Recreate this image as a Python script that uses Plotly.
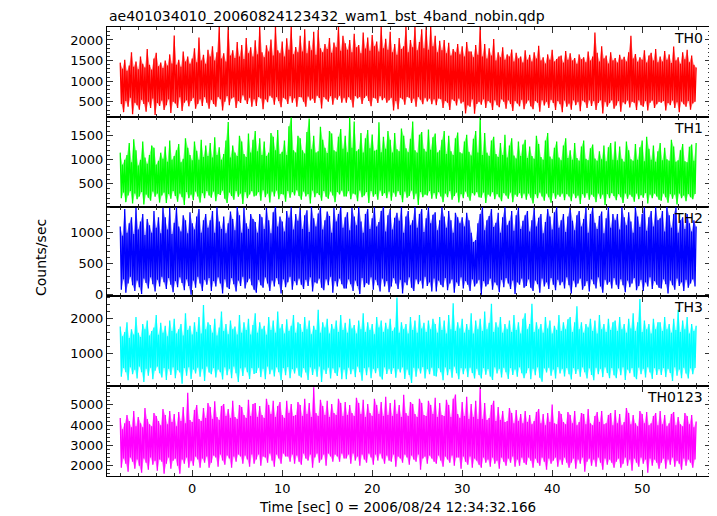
import plotly.graph_objects as go
from plotly.subplots import make_subplots

# ---------------- data ----------------
panel_names = ["TH0", "TH1", "TH2", "TH3", "TH0123"]
panel_colors = ["#ff0000", "#00ff00", "#0000ff", "#00ffff", "#ff00ff"]
panel_tints = ["rgba(255,0,0,0.5)", "rgba(0,255,0,0.5)", "rgba(0,0,255,0.5)",
               "rgba(0,255,255,0.5)", "rgba(255,0,255,0.5)"]

time_start = -8.0      # first sample time [s]
peak_step = 0.25       # spacing of the peak samples [s]; troughs sit half-way between

# ---- TH0: local peaks (t=-8.0..56.0 every 0.25 s) and troughs (t=-7.875..55.875)
th0_peak = [1450, 1300, 1520, 1250, 1380, 1700, 1350, 1480, 1290, 1600, 1420, 1330, 1780, 1400, 1280, 1550, 1690, 1360, 1450, 1320,
            1500, 1380, 1650, 1430, 2110, 1400, 1520, 1350, 1720, 1480, 1600, 1420, 1550, 1800, 1460, 2060, 1500, 1640, 1420, 1760,
            1600, 1850, 1500, 1700, 2330, 1550, 1680, 1480, 2330, 1620, 1750, 1560, 1950, 1600, 1880, 1540, 2050, 1680, 1820, 1600,
            1990, 1650, 2330, 1700, 1580, 1870, 1720, 2010, 1620, 2330, 1750, 1680, 1960, 1600, 2040, 1760, 2330, 1650, 1830, 1700,
            2100, 1720, 2260, 1680, 1980, 1750, 2200, 1640, 2240, 1800, 1700, 1900, 1780, 2050, 1690, 1940, 1820, 2330, 1740, 2100,
            1920, 1760, 2000, 1700, 2150, 1820, 1880, 1680, 2180, 1790, 2060, 1740, 2120, 1850, 1960, 1720, 2330, 1800, 2030, 1760,
            2200, 1700, 1900, 1640, 2050, 1780, 1850, 2330, 1700, 2000, 1820, 2330, 1750, 1950, 2260, 1800, 2330, 1760, 2330, 1850,
            2100, 1700, 1980, 1750, 2000, 1680, 1930, 1620, 1780, 1700, 1900, 1650, 1850, 1600, 1950, 1720, 1720, 1580, 1880, 1640,
            2330, 1600, 1900, 1550, 1800, 1620, 2020, 1500, 1700, 1580, 1820, 1520, 1650, 1600, 1770, 1480, 1690, 1550, 1600, 1450,
            1750, 1520, 1640, 1480, 1700, 1550, 1860, 1500, 1580, 1430, 1650, 1520, 1760, 1480, 1540, 1600, 1620, 1450, 1730, 1520,
            1680, 1500, 1560, 1420, 1650, 1530, 1580, 1460, 1720, 1500, 1600, 2180, 1690, 1480, 1850, 1550, 1620, 1430, 1700, 1500,
            1560, 1450, 1640, 1520, 1590, 1480, 1700, 2100, 1550, 1660, 1470, 1580, 1520, 1750, 1450, 1620, 1690, 1500, 1780, 1460,
            1600, 1480, 1730, 1520, 1650, 1440, 1840, 1500, 1580, 1420, 1700, 1530, 1760, 1460, 1620, 1400, 1330]
th0_trough = [450, 250, 520, 380, 600, 200, 480, 420, 310, 550, 450, 260, 500, 350, 580, 180, 470, 400, 530, 300,
              420, 560, 230, 500, 460, 350, 610, 280, 480, 540, 390, 520, 600, 330, 450, 560, 400, 620, 480, 330,
              550, 450, 380, 620, 560, 290, 500, 640, 420, 580, 610, 350, 520, 470, 660, 540, 450, 600, 380, 560,
              400, 620, 580, 320, 560, 490, 650, 600, 430, 620, 520, 370, 600, 560, 450, 640, 480, 590, 380, 620,
              610, 500, 380, 630, 530, 580, 470, 650, 590, 340, 620, 560, 500, 640, 430, 600, 550, 650, 480, 600,
              480, 620, 550, 360, 640, 580, 620, 450, 590, 650, 520, 390, 600, 580, 470, 640, 540, 600, 480, 540,
              600, 290, 520, 320, 600, 560, 430, 620, 600, 470, 580, 380, 620, 550, 440, 600, 510, 580, 440, 560,
              420, 580, 560, 350, 520, 480, 300, 560, 520, 410, 580, 460, 500, 220, 420, 380, 560, 210, 450, 500,
              430, 560, 350, 520, 480, 300, 540, 420, 370, 560, 500, 330, 540, 450, 280, 520, 460, 390, 550, 320,
              460, 540, 390, 320, 520, 480, 260, 540, 410, 500, 350, 550, 470, 300, 520, 440, 250, 530, 380, 460,
              310, 540, 420, 500, 270, 530, 490, 350, 540, 400, 520, 300, 470, 540, 220, 500, 380, 470, 540, 330,
              410, 520, 260, 490, 440, 530, 360, 500, 480, 300, 540, 420, 380, 520, 290, 480, 530, 350, 440, 500,
              480, 520, 290, 470, 420, 530, 350, 490, 250, 510, 440, 380, 520, 310, 460, 500]

# ---- TH1
th1_peak = [1150, 900, 1000, 1100, 1350, 950, 1430, 1200, 880, 1000, 1380, 1050, 920, 1100, 1300, 1250, 900, 980, 1150, 1020,
            1280, 960, 1400, 1000, 1080, 1200, 1330, 950, 1020, 1450, 1250, 1100, 990, 1380, 1190, 1000, 1420, 1060, 1300, 1080,
            1350, 1050, 1470, 1100, 1260, 1000, 1120, 1400, 1790, 1050, 1300, 1150, 1080, 1500, 1380, 1120, 1060, 1550, 1150, 1420,
            1600, 1180, 1450, 1100, 1380, 1080, 1150, 1560, 1480, 1200, 1620, 1120, 1170, 1400, 1100, 1700, 1880, 1200, 1150, 1500,
            1450, 1200, 1130, 1580, 1860, 1220, 1500, 1150, 1180, 1690, 1420, 1250, 1140, 1600, 1550, 1200, 1170, 1480, 1640, 1230,
            1500, 1160, 1880, 1250, 1800, 1180, 1220, 1560, 1150, 1450, 1620, 1240, 1530, 1190, 1210, 1780, 1160, 1480, 1230, 1600,
            1420, 1150, 1560, 1220, 1180, 1650, 1500, 1240, 1160, 1440, 1800, 1200, 1150, 1520, 1580, 1230, 1170, 1630, 1210, 1470,
            1550, 1150, 1200, 1420, 1600, 1120, 1500, 1180, 1100, 1450, 1570, 1160, 1130, 1380, 1520, 1170, 1090, 1440, 1600, 1150,
            1880, 1100, 1560, 1150, 1080, 1400, 1480, 1120, 1060, 1350, 1100, 1520, 1050, 1300, 1450, 1090, 1030, 1380, 1080, 1320,
            1420, 1040, 1280, 1080, 1020, 1500, 1330, 1060, 1000, 1400, 1560, 1070, 1010, 1250, 1380, 1050, 990, 1300, 1450, 1040,
            1200, 1000, 1350, 1040, 980, 1280, 1400, 1020, 990, 1240, 1320, 1030, 980, 1180, 1010, 1300, 970, 1260, 1350, 1000,
            1380, 990, 1280, 1020, 960, 1380, 1200, 1010, 980, 1330, 1000, 1260, 1400, 970, 1480, 1230, 1000, 1300, 960, 1180,
            1350, 990, 1250, 1010, 980, 1420, 1280, 960, 990, 1200, 1330, 970, 950, 1270, 1320, 980, 1350]
th1_trough = [200, 320, 120, 260, 350, 90, 300, 180, 240, 330, 70, 280, 210, 150, 340, 230, 300, 110, 260, 320,
              100, 290, 190, 350, 250, 130, 300, 220, 60, 330, 200, 280, 160, 340, 240, 110, 310, 200, 350, 260,
              210, 340, 140, 290, 270, 360, 190, 100, 320, 250, 170, 350, 230, 300, 80, 330, 200, 280, 350, 240,
              260, 330, 150, 370, 220, 300, 110, 340, 240, 360, 180, 290, 280, 130, 350, 210, 330, 260, 370, 250,
              170, 340, 240, 290, 90, 360, 220, 310, 270, 150, 350, 230, 190, 340, 260, 120, 330, 280, 360, 240,
              240, 350, 180, 300, 280, 140, 360, 220, 260, 330, 100, 350, 230, 290, 170, 360, 250, 310, 200, 340,
              150, 320, 230, 350, 270, 120, 340, 210, 250, 360, 180, 300, 60, 330, 220, 280, 260, 350, 190, 310,
              190, 330, 240, 120, 300, 220, 350, 170, 250, 320, 110, 290, 200, 340, 230, 150, 310, 260, 330, 220,
              210, 320, 100, 280, 240, 330, 180, 290, 220, 140, 310, 260, 190, 320, 120, 280, 230, 310, 200, 300,
              170, 300, 210, 90, 290, 200, 320, 240, 150, 300, 220, 110, 310, 190, 280, 230, 300, 160, 290, 240,
              140, 300, 200, 260, 80, 290, 210, 310, 170, 280, 230, 120, 300, 190, 280, 60, 290, 200, 310, 250,
              160, 290, 220, 100, 300, 190, 280, 230, 130, 300, 180, 270, 210, 310, 90, 280, 200, 300, 240, 170,
              150, 300, 220, 110, 290, 190, 280, 70, 300, 200, 260, 140, 290, 220, 180, 290]

# ---- TH2
th2_peak = [1100, 950, 1380, 1000, 1150, 1250, 980, 1400, 1050, 1180, 1300, 960, 1220, 1120, 1000, 1350, 1080, 1250, 990, 1400,
            1250, 1050, 1400, 980, 1160, 1410, 1100, 1020, 1280, 1200, 990, 1330, 1150, 1050, 1260, 1380, 1000, 1200, 1300, 1080,
            1200, 1350, 1000, 1410, 1180, 1060, 1260, 990, 1150, 1340, 1220, 1040, 1420, 1280, 1000, 1400, 1150, 1060, 1300, 1220,
            1170, 1000, 1300, 1250, 1060, 1400, 1200, 990, 1330, 1420, 1100, 1260, 1180, 1020, 1350, 1240, 1410, 1050, 1300, 1190,
            1420, 1060, 1280, 1360, 1010, 1420, 1230, 1100, 1310, 1410, 1050, 1200, 1340, 1270, 1000, 1400, 1180, 1300, 1420, 1080,
            1250, 1330, 1040, 1400, 1260, 1120, 1420, 1180, 1000, 1300, 1380, 1060, 1230, 1410, 1100, 1170, 1350, 1420, 1020, 1280,
            1380, 1050, 1240, 1320, 1190, 1410, 1000, 1260, 1350, 1120, 1200, 1420, 1080, 1300, 1380, 1010, 1230, 1410, 1150, 1290,
            1330, 1040, 1200, 1410, 1260, 1080, 1350, 1200, 1000, 1320, 1250, 1150, 1250, 1100, 1320, 1200, 1000, 850, 880, 1150,
            1300, 1410, 1040, 1200, 1270, 1380, 1090, 1160, 1320, 1000, 1250, 1410, 1120, 1190, 1350, 1030, 1280, 1400, 1060, 1190,
            1280, 1350, 1020, 1200, 1410, 1100, 1240, 1300, 990, 1170, 1380, 1260, 1050, 1330, 1410, 1080, 1200, 1300, 1010, 1260,
            1410, 1190, 1040, 1280, 1350, 1100, 1220, 1410, 1000, 1300, 1400, 1160, 1060, 1270, 1340, 990, 1230, 1420, 1080, 1300,
            1200, 1300, 1050, 1410, 1250, 1120, 1330, 1180, 1000, 1420, 1260, 1090, 1300, 1410, 1030, 1250, 1350, 1100, 1410, 1200,
            1230, 1350, 1020, 1420, 1280, 1080, 1300, 1410, 1000, 1200, 1250, 1060, 1300, 1150, 1020, 1200, 1100]
th2_trough = [80, 250, 30, 180, 290, 150, 60, 230, 120, 10, 260, 190, 100, 280, 170, 50, 240, 130, 290, 200,
              90, 270, 160, 40, 220, 120, 280, 190, 70, 250, 140, 0, 230, 110, 290, 180, 60, 240, 160, 270,
              60, 220, 130, 280, 180, 20, 250, 120, 90, 270, 170, 50, 230, 140, 290, 100, 200, 260, 150, 80,
              30, 240, 150, 110, 280, 180, 60, 230, 130, 270, 170, 20, 250, 120, 200, 290, 80, 220, 150, 260,
              160, 90, 240, 140, 280, 50, 200, 180, 260, 110, 70, 250, 150, 290, 30, 220, 130, 260, 170, 100,
              100, 250, 170, 60, 230, 140, 10, 270, 120, 190, 160, 280, 80, 240, 150, 50, 260, 130, 220, 40,
              130, 270, 180, 90, 240, 20, 200, 150, 280, 110, 60, 250, 170, 230, 100, 290, 140, 200, 50, 260,
              50, 230, 160, 120, 270, 70, 180, 250, 30, 200, 140, 280, 100, 220, 160, 60, 250, 130, 180, 240,
              0, 220, 130, 170, 260, 80, 200, 150, 40, 240, 120, 270, 180, 90, 230, 10, 200, 160, 260, 110,
              140, 250, 110, 60, 230, 170, 30, 260, 130, 200, 90, 270, 160, 70, 240, 150, 210, 100, 280, 150,
              20, 230, 120, 180, 260, 80, 140, 220, 50, 250, 170, 100, 280, 130, 30, 240, 160, 210, 100, 270,
              160, 90, 250, 150, 40, 230, 120, 180, 270, 70, 140, 240, 60, 200, 130, 280, 90, 220, 160, 110,
              100, 250, 170, 20, 230, 150, 80, 260, 140, 200, 60, 240, 110, 180, 250, 130]

# ---- TH3
th3_peak = [1780, 1500, 1620, 1900, 1450, 1700, 1550, 2050, 1600, 1480, 1850, 1700, 1950, 1520, 1650, 1750, 2100, 1540, 1880, 1600,
            1800, 1500, 1950, 1650, 2000, 1580, 1700, 1850, 1520, 2150, 1680, 1800, 1550, 1900, 1620, 2050, 1580, 2390, 1700, 1900,
            1820, 1600, 2000, 1520, 1750, 2200, 1650, 1850, 1560, 1950, 1700, 1780, 1550, 2100, 1600, 1900, 1680, 2000, 1550, 1820,
            2150, 1600, 1900, 1700, 1800, 1540, 2050, 1680, 1950, 1600, 2200, 1720, 1850, 1580, 1980, 1650, 1800, 2100, 1600, 1900,
            1850, 1620, 2050, 1700, 1950, 1560, 1800, 1680, 2250, 1600, 1900, 1750, 2000, 1580, 1850, 1700, 1950, 1620, 2100, 1680,
            1880, 1600, 2000, 1720, 1820, 1580, 1950, 1700, 2150, 1620, 1900, 1680, 1850, 1560, 2050, 1750, 1950, 1620, 1880, 1700,
            2000, 1650, 1750, 2600, 1600, 1900, 1700, 1850, 1580, 2050, 1680, 1950, 1600, 2100, 1720, 1880, 1620, 1950, 1700, 2000,
            1850, 1600, 2050, 1680, 1950, 1580, 2100, 1700, 2440, 1650, 1900, 1720, 2000, 1600, 1850, 1680, 2150, 1580, 1950, 1700,
            2000, 1650, 2200, 1700, 1880, 2420, 1620, 1900, 1750, 2050, 1600, 1850, 1700, 1950, 1620, 2100, 1680, 1900, 1580, 2000,
            2150, 1700, 1850, 2420, 1620, 1900, 1700, 1850, 1600, 2050, 1720, 1950, 1580, 1800, 1680, 2100, 1650, 1900, 1700, 1980,
            2050, 1620, 1900, 2350, 1700, 1900, 1600, 1850, 1750, 2000, 1650, 1950, 1580, 2100, 1700, 1850, 1620, 2000, 1680, 1900,
            1950, 1650, 2050, 1700, 1850, 1600, 2000, 1720, 2150, 1650, 1900, 2560, 1620, 1950, 1700, 1850, 1580, 2000, 1700, 1900,
            1900, 1650, 2050, 1700, 1850, 1600, 2000, 1680, 2250, 1620, 1950, 1700, 2050, 1580, 1850, 1650, 1800]
th3_trough = [350, 600, 480, 250, 620, 420, 550, 300, 640, 480, 200, 580, 380, 610, 280, 520, 640, 450, 330, 600,
              260, 580, 400, 620, 310, 540, 470, 150, 600, 380, 620, 290, 560, 440, 610, 350, 580, 230, 640, 470,
              420, 600, 330, 560, 480, 270, 620, 390, 580, 310, 640, 450, 200, 590, 370, 620, 480, 290, 600, 430,
              460, 610, 340, 580, 280, 640, 420, 560, 360, 620, 480, 250, 600, 390, 630, 310, 570, 440, 610, 380,
              330, 600, 470, 260, 620, 400, 580, 350, 640, 200, 560, 430, 610, 300, 590, 460, 370, 620, 280, 560,
              280, 610, 420, 570, 340, 640, 480, 240, 600, 390, 620, 310, 580, 450, 600, 360, 270, 620, 430, 580,
              430, 600, 320, 580, 470, 620, 290, 560, 400, 170, 610, 350, 590, 440, 630, 300, 570, 420, 610, 380,
              360, 600, 480, 250, 620, 390, 570, 320, 640, 450, 280, 600, 420, 590, 340, 610, 460, 300, 580, 400,
              300, 600, 410, 570, 360, 260, 620, 440, 580, 330, 610, 480, 290, 600, 400, 560, 350, 620, 450, 310,
              450, 600, 280, 580, 390, 620, 320, 210, 590, 470, 610, 380, 560, 300, 630, 440, 580, 360, 600, 420,
              270, 600, 430, 570, 350, 620, 480, 300, 590, 400, 250, 610, 420, 580, 340, 620, 460, 310, 600, 390,
              310, 590, 390, 620, 260, 560, 450, 600, 350, 280, 610, 420, 580, 330, 620, 470, 290, 600, 400, 570,
              400, 600, 340, 580, 460, 230, 620, 380, 560, 310, 610, 440, 300, 590, 420, 600]

# ---- TH0123
th0123_peak = [4350, 3800, 4100, 4500, 4200, 3900, 4700, 3950, 4400, 4100, 3900, 4850, 4300, 4050, 3950, 4600, 4450, 4200, 4000, 4800,
               4500, 4050, 4700, 4150, 4550, 3950, 4650, 4200, 4900, 4100, 5595, 4250, 4150, 4750, 5000, 4300, 4200, 4850, 4350, 5100,
               4900, 4300, 5180, 4400, 4250, 4950, 5050, 4450, 4800, 4350, 5200, 4400, 4300, 5000, 4900, 4500, 4350, 5250, 4450, 5050,
               5100, 4400, 4950, 4500, 4350, 5300, 5000, 4550, 5200, 4400, 4950, 5150, 4500, 4350, 5200, 4600, 5050, 4450, 4500, 5150,
               5000, 4450, 5300, 4550, 5100, 4400, 5877, 4600, 4450, 5250, 4950, 4500, 5200, 4400, 5050, 4600, 4500, 5300, 5100, 4450,
               5150, 4500, 5000, 4600, 4450, 5350, 5100, 4550, 5250, 4400, 5050, 4600, 4450, 5300, 5000, 4550, 5150, 4450, 5400, 4500,
               5100, 4450, 5250, 4550, 5000, 4400, 5500, 4600, 4450, 5150, 5050, 4550, 4400, 5300, 5100, 4500, 4450, 5200, 5000, 4550,
               5350, 4400, 5100, 4500, 4450, 5250, 5000, 4400, 5300, 5513, 4550, 4350, 5150, 4450, 5400, 4300, 5050, 4400, 5200, 4300,
               5877, 4300, 5100, 4250, 4350, 5000, 5200, 4200, 4900, 4250, 4700, 4150, 4200, 4850, 4600, 4100, 4750, 4200, 4550, 4100,
               4700, 4150, 4500, 4050, 4200, 4650, 4800, 4100, 4550, 4000, 4600, 4150, 5015, 4100, 4050, 4700, 4550, 4150, 4050, 4650,
               4500, 4100, 4700, 4000, 4150, 4600, 4550, 4050, 4800, 4100, 4000, 4450, 4650, 4150, 4700, 4050, 4100, 4500, 4600, 4000,
               4750, 4100, 4550, 4000, 4150, 4850, 4600, 4050, 4500, 4100, 3950, 4700, 4550, 4100, 4650, 4000, 4100, 4450, 4600, 4000,
               4700, 4050, 4500, 3950, 4100, 4550, 4650, 4000, 4400, 4050, 3950, 4600, 4450, 4050, 4500, 3900, 4186]
th0123_trough = [1900, 2350, 2100, 1700, 2400, 2200, 1850, 2300, 2000, 1650, 2350, 2150, 1800, 2400, 2050, 2250, 1750, 2300, 2200, 1600,
                 2100, 2400, 1850, 2250, 2350, 2000, 1600, 2300, 2100, 2400, 1900, 2250, 2000, 2450, 2300, 1900, 2350, 2150, 2450, 1900,
                 2150, 2500, 2400, 1950, 2550, 2250, 2050, 2500, 2350, 1900, 2450, 2200, 2550, 2450, 2100, 2500, 2300, 1950, 2550, 2100,
                 2300, 2550, 2000, 2450, 2400, 2150, 2600, 2250, 1950, 2550, 2350, 2100, 2600, 2450, 2450, 2200, 2550, 2100, 2500, 2200,
                 2050, 2600, 2350, 2250, 2550, 1900, 2400, 2600, 2150, 2300, 2550, 2000, 2600, 2450, 2200, 2550, 2450, 2200, 2600, 2350,
                 2350, 2550, 2100, 2600, 2250, 2450, 2000, 2550, 2300, 2150, 2600, 2400, 2050, 2550, 2250, 2600, 2350, 2100, 2500, 2250,
                 2200, 2550, 1950, 2450, 2350, 2150, 2550, 2400, 2050, 2500, 2300, 2200, 2550, 1800, 2350, 2450, 2100, 2500, 2350, 2200,
                 2100, 2500, 2250, 1950, 2450, 2300, 2150, 2500, 2000, 2400, 2400, 1850, 2450, 2200, 2050, 2450, 1900, 2350, 2250, 2050,
                 1900, 2400, 2150, 2300, 1950, 2400, 2100, 2250, 1850, 2400, 2200, 2000, 2350, 2150, 2450, 1950, 2300, 2000, 2400, 2150,
                 2050, 2400, 2250, 1900, 2350, 2150, 2000, 2400, 2200, 1800, 2350, 2100, 2250, 2400, 1950, 2300, 2050, 2400, 2150, 1900,
                 2150, 2350, 1850, 2300, 2100, 2400, 1700, 2200, 2350, 2000, 2300, 1950, 2400, 2150, 1800, 2350, 2050, 2300, 2150, 1900,
                 2200, 2350, 1900, 2100, 2400, 2000, 2300, 1750, 2350, 2150, 1950, 2400, 2100, 2300, 1650, 2350, 2000, 2300, 2150, 1850,
                 2150, 2350, 1850, 2300, 2050, 2400, 1950, 2250, 2100, 1800, 2350, 2000, 2300, 2150, 1900, 2300]

peaks = [th0_peak, th1_peak, th2_peak, th3_peak, th0123_peak]
troughs = [th0_trough, th1_trough, th2_trough, th3_trough, th0123_trough]

# axis settings per panel
y_ranges = [[137, 2314], [27, 1896], [-28, 1420], [82, 2632], [1490, 5925]]
y_dticks = [500, 500, 500, 1000, 1000]
y_minor = [100, 100, 100, 200, 200]
x_range = [-9.47, 57.65]

title_text = "ae401034010_20060824123432_wam1_bst_4band_nobin.qdp"
x_title = "Time [sec] 0 = 2006/08/24 12:34:32.166"
y_title = "Counts/sec"

# ---------------- figure ----------------
W, H = 717, 516
OFF = 8                       # page offset of the figure inside the browser window
L, R, T, B = 99, 14, 19, 48   # -> plot frame at x 107..711, y 27..476 on screen
plot_w, plot_h = W - L - R, H - T - B

fig = make_subplots(rows=5, cols=1, shared_xaxes=True, vertical_spacing=0)

FONT = "DejaVu Sans"
for k in range(5):
    row = k + 1
    col = panel_colors[k]
    pk, tr = peaks[k], troughs[k]
    t_pk = [time_start + peak_step * i for i in range(len(pk))]
    t_tr = [time_start + peak_step * (i + 0.5) for i in range(len(tr))]
    # light band between the peak envelope and the trough envelope
    fig.add_trace(go.Scatter(x=t_pk + t_tr[::-1], y=pk + tr[::-1], fill="toself",
                             fillcolor=panel_tints[k], line=dict(width=0), mode="lines",
                             hoverinfo="skip", showlegend=False), row=row, col=1)
    # the light curve itself, alternating peak / trough
    xs, ys = [], []
    for i in range(len(pk)):
        xs.append(t_pk[i])
        ys.append(pk[i])
        if i < len(tr):
            xs.append(t_tr[i])
            ys.append(tr[i])
    fig.add_trace(go.Scatter(x=xs, y=ys, mode="lines", line=dict(color=col, width=1.3),
                             hoverinfo="skip", showlegend=False), row=row, col=1)

    fig.update_yaxes(range=y_ranges[k], dtick=y_dticks[k], tick0=0,
                     ticks="inside", ticklen=6, tickwidth=1, tickcolor="#333",
                     minor=dict(dtick=y_minor[k], tick0=0, ticks="inside", ticklen=3,
                                tickcolor="#333", tickwidth=1),
                     showline=True, linecolor="black", linewidth=1.1, mirror="ticks",
                     showgrid=False, zeroline=False,
                     tickfont=dict(family=FONT, size=13, color="black"),
                     row=row, col=1)
    fig.update_xaxes(range=x_range, dtick=10, tick0=0,
                     ticks="inside", ticklen=6, tickwidth=1, tickcolor="#333",
                     minor=dict(dtick=2, tick0=0, ticks="inside", ticklen=3,
                                tickcolor="#333", tickwidth=1),
                     showline=True, linecolor="black", linewidth=1.1, mirror="ticks",
                     showgrid=False, zeroline=False,
                     tickfont=dict(family=FONT, size=13, color="black"),
                     row=row, col=1)


def px_x(px):
    return (px - OFF - L) / plot_w


def px_y(py):
    return (H - B - (py - OFF)) / plot_h


annotations = [
    dict(text=title_text, x=px_x(107), y=px_y(16), xanchor="left", yanchor="middle",
         font=dict(family=FONT, size=14, color="black")),
    dict(text=x_title, x=px_x(397), y=px_y(507), xanchor="center", yanchor="middle",
         font=dict(family=FONT, size=13.5, color="black")),
    dict(text=y_title, x=px_x(41), y=px_y(258), xanchor="center", yanchor="middle",
         textangle=-90, font=dict(family=FONT, size=14, color="black")),
]
label_centers = [38, 128, 218, 307, 397]
for k in range(5):
    annotations.append(dict(text=panel_names[k], x=px_x(705), y=px_y(label_centers[k]),
                            xanchor="right", yanchor="middle",
                            font=dict(family=FONT, size=14, color="black")))
for a in annotations:
    a.update(xref="paper", yref="paper", showarrow=False)

fig.update_layout(width=W, height=H, margin=dict(l=L, r=R, t=T, b=B, pad=0),
                  paper_bgcolor="white", plot_bgcolor="white",
                  showlegend=False, hovermode=False, annotations=annotations)

fig.write_html("out.html")
